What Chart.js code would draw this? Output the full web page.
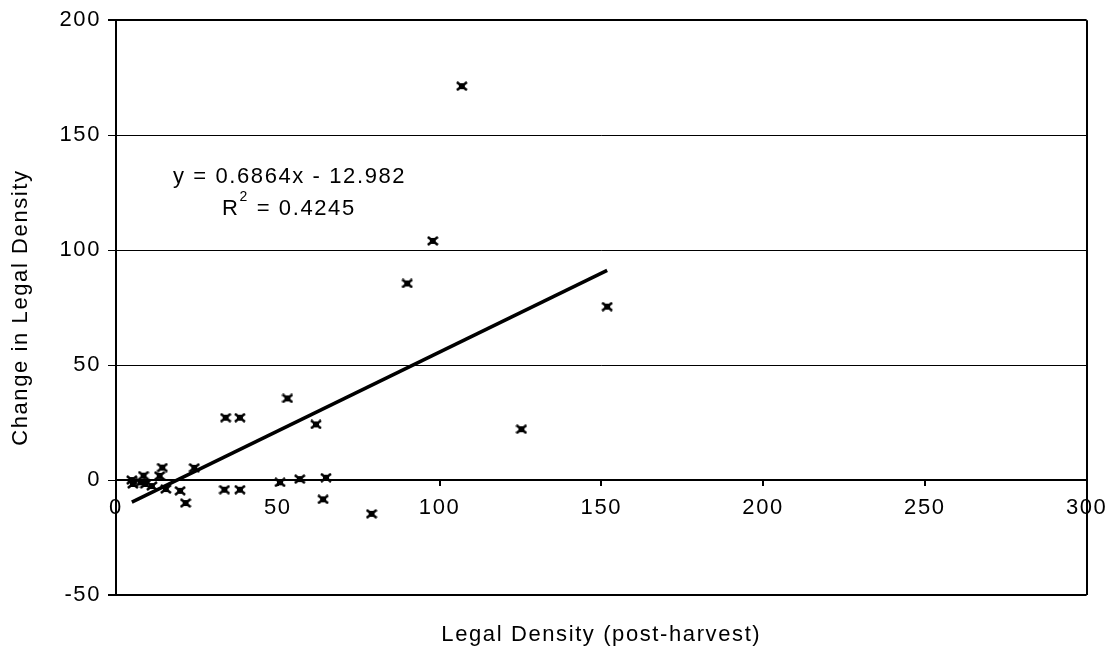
<!DOCTYPE html>
<html>
<head>
<meta charset="utf-8">
<title>Legal Density</title>
<script src="https://cdn.jsdelivr.net/npm/chart.js@4.4.1/dist/chart.umd.min.js"></script>
<style>
  body { margin: 0; background: #fff; }
  canvas { display: block; }
</style>
</head>
<body>
<canvas id="densityChart" width="1115" height="654"></canvas>
<script>
// post-harvest legal density vs change in legal density
const densityPost = [4.9, 5.2, 7.6, 8.5, 9.1, 11.1, 13.5, 14.3, 15.4, 19.8, 21.5, 24.2,
  33.5, 33.9, 38.3, 38.3, 50.7, 53.0, 56.8, 61.8, 64.0, 64.9, 79.0, 90.0, 97.9, 106.9, 125.3, 151.8];
const densityChange = [0, -1.7, -1.0, 1.9, -1.7, -2.6, 1.8, 5.4, -3.9, -4.7, -10.0, 5.3,
  -4.2, 27.1, -4.2, 27.1, -1.0, 35.5, 0.4, 24.2, -8.4, 1.0, -14.7, 85.5, 104.0, 171.3, 22.1, 75.4];

// linear trend
const slope = 0.6864;
const intercept = -12.982;
const eqLines = ["y = 0.6864x - 12.982", "R", "2", " = 0.4245"];

const xTicks = [0, 50, 100, 150, 200, 250, 300];
const yTicks = [-50, 0, 50, 100, 150, 200];

const FONT = "'Liberation Sans', Arial, sans-serif";
Chart.defaults.font.family = FONT;
Chart.defaults.font.size = 22;
Chart.defaults.color = "#000";

// marker: filled square with crossed corners
const mark = document.createElement("canvas");
mark.width = 12;
mark.height = 10;
const m = mark.getContext("2d");
m.strokeStyle = "#000";
m.lineWidth = 2.5;
m.beginPath();
m.moveTo(1, 1); m.lineTo(11, 9);
m.moveTo(11, 1); m.lineTo(1, 9);
m.stroke();
m.fillStyle = "#000";
m.fillRect(3, 2, 6, 6);

const points = densityPost.map((x, i) => ({ x: x, y: densityChange[i] }));
const xMin = Math.min(...densityPost);
const xMax = Math.max(...densityPost);
const trend = [xMin, xMax].map((x) => ({ x: x, y: slope * x + intercept }));

const spacing = {
  id: "spacing",
  beforeDraw(chart) {
    chart.ctx.letterSpacing = "1.6px";
  },
};

// equation and R squared next to the trend line
const equation = {
  id: "equation",
  afterDatasetsDraw(chart) {
    const { ctx, scales } = chart;
    const x1 = scales.x.getPixelForValue(17.6);
    const y1 = scales.y.getPixelForValue(131.7);
    const x2 = scales.x.getPixelForValue(32.8);
    const y2 = scales.y.getPixelForValue(117.8);
    ctx.save();
    ctx.fillStyle = "#000";
    ctx.textBaseline = "middle";
    ctx.textAlign = "left";
    ctx.font = "22px " + FONT;
    ctx.fillText(eqLines[0], x1, y1);
    ctx.fillText(eqLines[1], x2, y2);
    let w = ctx.measureText(eqLines[1]).width;
    ctx.font = "14px " + FONT;
    ctx.fillText(eqLines[2], x2 + w, y2 - 12);
    w += ctx.measureText(eqLines[2]).width;
    ctx.font = "22px " + FONT;
    ctx.fillText(eqLines[3], x2 + w, y2);
    ctx.restore();
  },
};

const ctx = document.getElementById("densityChart").getContext("2d");

new Chart(ctx, {
  type: "scatter",
  data: {
    datasets: [
      {
        type: "line",
        data: trend,
        borderColor: "#000",
        borderWidth: 3.5,
        pointRadius: 0,
        fill: false,
      },
      {
        data: points,
        pointStyle: mark,
        pointRadius: 5,
      },
    ],
  },
  options: {
    responsive: false,
    animation: false,
    layout: { padding: { top: 17, right: 28, left: 0, bottom: 0 } },
    plugins: {
      legend: { display: false },
      tooltip: { enabled: false },
    },
    scales: {
      x: {
        type: "linear",
        position: { y: 0 },
        min: 0,
        max: 300,
        afterBuildTicks: (scale) => {
          scale.ticks = xTicks.map((v) => ({ value: v }));
        },
        border: { color: "#000", width: 2 },
        grid: {
          color: (c) => (c.tick && c.tick.value === 300 ? "#000" : "rgba(0,0,0,0)"),
          lineWidth: 2,
          tickColor: "#000",
          tickLength: 5,
          tickWidth: 2,
        },
        ticks: { padding: 10, maxRotation: 0 },
      },
      x2: {
        type: "linear",
        position: "bottom",
        ticks: { display: false },
        grid: { display: false },
        border: { display: false },
        title: {
          display: true,
          text: "Legal Density (post-harvest)",
          padding: { top: 0, bottom: 6 },
        },
        afterFit: (scale) => {
          scale.height = 59;
        },
      },
      y: {
        type: "linear",
        position: "left",
        min: -50,
        max: 200,
        afterBuildTicks: (scale) => {
          scale.ticks = yTicks.map((v) => ({ value: v }));
        },
        border: { color: "#000", width: 2 },
        grid: {
          color: "#000",
          lineWidth: (c) => (c.tick && (c.tick.value === -50 || c.tick.value === 200) ? 2 : 1),
          tickColor: "#000",
          tickLength: 8,
        },
        ticks: { padding: 7 },
        title: {
          display: true,
          text: "Change in Legal Density",
          padding: { top: 8, bottom: 0 },
        },
        afterFit: (scale) => {
          scale.width = 116;
        },
      },
    },
  },
  plugins: [spacing, equation],
});
</script>
</body>
</html>
